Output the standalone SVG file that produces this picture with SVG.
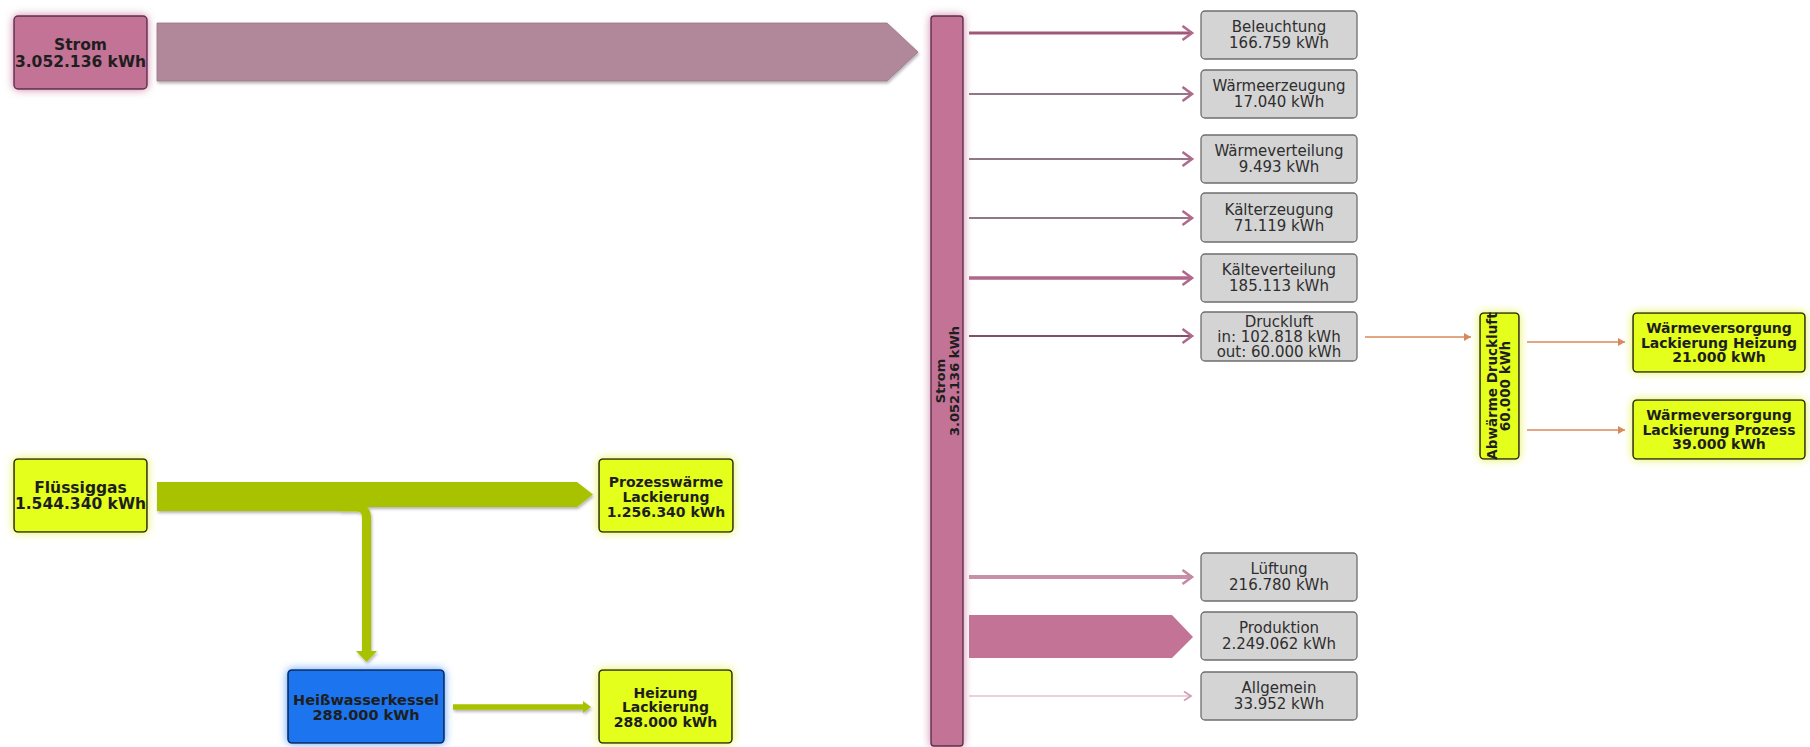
<svg xmlns="http://www.w3.org/2000/svg" width="1810" height="747" viewBox="0 0 1810 747">
<defs>
<style>
text{font-family:"DejaVu Sans","Liberation Sans",sans-serif;fill:#1e1e1e;text-anchor:middle}
.b{font-weight:bold}
.gt{font-size:15px;fill:#2e2e2e}
.gray{fill:#d4d4d4;stroke:#6e6e6e;stroke-width:1.3}
.yel{fill:#e4ff1c;stroke:#2e2e1a;stroke-width:1.6}
.pk{fill:#c27396;stroke:#5a3048;stroke-width:1.4}
.ln{fill:none}
.or{fill:none;stroke:#d8895a;stroke-width:1.5}
.gr{fill:#a9c200}
</style>
<filter id="glowP" x="-30%" y="-30%" width="160%" height="160%">
<feFlood flood-color="#c8709a" flood-opacity="0.85" result="c"/>
<feComposite in="c" in2="SourceAlpha" operator="in" result="s"/>
<feGaussianBlur in="s" stdDeviation="4.5"/>
<feMerge><feMergeNode/><feMergeNode in="SourceGraphic"/></feMerge>
</filter>
<filter id="glowY" x="-30%" y="-30%" width="160%" height="160%">
<feFlood flood-color="#e0f030" flood-opacity="0.85" result="c"/>
<feComposite in="c" in2="SourceAlpha" operator="in" result="s"/>
<feGaussianBlur in="s" stdDeviation="4.5"/>
<feMerge><feMergeNode/><feMergeNode in="SourceGraphic"/></feMerge>
</filter>
<filter id="glowB" x="-30%" y="-30%" width="160%" height="160%">
<feFlood flood-color="#3a8cff" flood-opacity="0.85" result="c"/>
<feComposite in="c" in2="SourceAlpha" operator="in" result="s"/>
<feGaussianBlur in="s" stdDeviation="4.5"/>
<feMerge><feMergeNode/><feMergeNode in="SourceGraphic"/></feMerge>
</filter>
<filter id="sh" x="-10%" y="-30%" width="120%" height="160%">
<feDropShadow dx="1" dy="2" stdDeviation="1.5" flood-color="#000" flood-opacity="0.3"/>
</filter>
<marker id="ah" markerUnits="userSpaceOnUse" markerWidth="14" markerHeight="18" refX="11" refY="8" orient="auto">
<path d="M1.5,1 L11,8 L1.5,15" fill="none" stroke="#b06a8c" stroke-width="2.6"/>
</marker>
<marker id="ahl" markerUnits="userSpaceOnUse" markerWidth="14" markerHeight="18" refX="11" refY="8" orient="auto">
<path d="M1.5,1 L11,8 L1.5,15" fill="none" stroke="#c48aa4" stroke-width="2.6"/>
</marker>
<marker id="ahs" markerUnits="userSpaceOnUse" markerWidth="10" markerHeight="12" refX="8" refY="5.5" orient="auto">
<path d="M1,1 L8,5.5 L1,10" fill="none" stroke="#d0a0b6" stroke-width="1.8"/>
</marker>
<marker id="aho" markerUnits="userSpaceOnUse" markerWidth="10" markerHeight="12" refX="8" refY="5" orient="auto">
<path d="M1,1 L8,5 L1,9 Z" fill="#d8895a"/>
</marker>
</defs>
<rect width="1810" height="747" fill="#ffffff"/>

<g id="connectors">
<polygon points="157,23 887,23 918,52 887,81 157,81" fill="#b0889a" stroke="#9a7486" stroke-width="0.8" filter="url(#sh)"/>
<line class="ln" x1="969" y1="33" x2="1192" y2="33" style="stroke:#a0587a;stroke-width:3.2" marker-end="url(#ah)"/>
<line class="ln" x1="969" y1="94" x2="1192" y2="94" style="stroke:#6a4a5c;stroke-width:1.3" marker-end="url(#ah)"/>
<line class="ln" x1="969" y1="159" x2="1192" y2="159" style="stroke:#6a4a5c;stroke-width:1.3" marker-end="url(#ah)"/>
<line class="ln" x1="969" y1="218" x2="1192" y2="218" style="stroke:#6a4a5c;stroke-width:1.6" marker-end="url(#ah)"/>
<line class="ln" x1="969" y1="278" x2="1192" y2="278" style="stroke:#b0658a;stroke-width:3.5" marker-end="url(#ah)"/>
<line class="ln" x1="969" y1="336" x2="1192" y2="336" style="stroke:#80506a;stroke-width:2.2" marker-end="url(#ah)"/>
<line class="ln" x1="969" y1="577" x2="1192" y2="577" style="stroke:#c890a8;stroke-width:4" marker-end="url(#ahl)"/>
<polygon points="969,615 1172,615 1193,637 1172,658 969,658" fill="#c27396"/>
<line class="ln" x1="969" y1="696" x2="1191" y2="696" style="stroke:#d4a6ba;stroke-width:1.2" marker-end="url(#ahs)"/>
<line class="or" x1="1365" y1="337" x2="1471" y2="337" marker-end="url(#aho)"/>
<line class="or" x1="1527" y1="342" x2="1625" y2="342" marker-end="url(#aho)"/>
<line class="or" x1="1527" y1="430" x2="1625" y2="430" marker-end="url(#aho)"/>
<g filter="url(#sh)">
<polygon class="gr" points="157,482 577,482 593,494.5 577,507 157,507"/>
<rect class="gr" x="157" y="506" width="210" height="5"/>
<path d="M340,507 L356,507 Q366.5,507 366.5,518 L366.5,653" fill="none" stroke="#a9c200" stroke-width="9"/>
<polygon class="gr" points="356,651 377,651 366.5,662"/>
<line x1="453" y1="707" x2="584" y2="707" stroke="#a9c200" stroke-width="5.5"/>
<polygon class="gr" points="583,701 591,707 583,713"/>
</g>
</g>

<g id="strom-source">
<rect class="pk" x="14" y="16" width="133" height="73" rx="4" fill="#c8709a" filter="url(#glowP)"/>
<text class="b" x="80.5" y="50" font-size="15.5">Strom</text>
<text class="b" x="80.5" y="66.5" font-size="15.5">3.052.136 kWh</text>
</g>

<g id="strom-bus">
<rect class="pk" x="931" y="16" width="32" height="730" rx="3" filter="url(#glowP)"/>
<text class="b" font-size="13" transform="translate(944.5,381) rotate(-90)">Strom</text>
<text class="b" font-size="13" transform="translate(958.5,381) rotate(-90)">3.052.136 kWh</text>
</g>

<g id="beleuchtung">
<rect class="gray" x="1201" y="11" width="156" height="48" rx="4"/>
<text class="gt" x="1279" y="32">Beleuchtung</text>
<text class="gt" x="1279" y="48">166.759 kWh</text>
</g>
<g id="waermeerzeugung">
<rect class="gray" x="1201" y="70" width="156" height="48" rx="4"/>
<text class="gt" x="1279" y="91">Wärmeerzeugung</text>
<text class="gt" x="1279" y="107">17.040 kWh</text>
</g>
<g id="waermeverteilung">
<rect class="gray" x="1201" y="135" width="156" height="48" rx="4"/>
<text class="gt" x="1279" y="156">Wärmeverteilung</text>
<text class="gt" x="1279" y="172">9.493 kWh</text>
</g>
<g id="kaelterzeugung">
<rect class="gray" x="1201" y="193" width="156" height="49" rx="4"/>
<text class="gt" x="1279" y="215">Kälterzeugung</text>
<text class="gt" x="1279" y="231">71.119 kWh</text>
</g>
<g id="kaelteverteilung">
<rect class="gray" x="1201" y="254" width="156" height="48" rx="4"/>
<text class="gt" x="1279" y="275">Kälteverteilung</text>
<text class="gt" x="1279" y="291">185.113 kWh</text>
</g>
<g id="druckluft">
<rect class="gray" x="1201" y="312" width="156" height="49" rx="4"/>
<text class="gt" x="1279" y="327">Druckluft</text>
<text class="gt" x="1279" y="342">in: 102.818 kWh</text>
<text class="gt" x="1279" y="357">out: 60.000 kWh</text>
</g>
<g id="lueftung">
<rect class="gray" x="1201" y="553" width="156" height="48" rx="4"/>
<text class="gt" x="1279" y="574">Lüftung</text>
<text class="gt" x="1279" y="590">216.780 kWh</text>
</g>
<g id="produktion">
<rect class="gray" x="1201" y="612" width="156" height="48" rx="4"/>
<text class="gt" x="1279" y="633">Produktion</text>
<text class="gt" x="1279" y="649">2.249.062 kWh</text>
</g>
<g id="allgemein">
<rect class="gray" x="1201" y="672" width="156" height="48" rx="4"/>
<text class="gt" x="1279" y="693">Allgemein</text>
<text class="gt" x="1279" y="709">33.952 kWh</text>
</g>

<g id="abwaerme-druckluft">
<rect class="yel" x="1480" y="313" width="39" height="146" rx="4" filter="url(#glowY)"/>
<text class="b" font-size="13.5" transform="translate(1496.5,386) rotate(-90)">Abwärme Druckluft</text>
<text class="b" font-size="13.5" transform="translate(1510,386) rotate(-90)">60.000 kWh</text>
</g>
<g id="wv-heizung">
<rect class="yel" x="1633" y="313" width="172" height="59" rx="4" filter="url(#glowY)"/>
<text class="b" font-size="14" x="1719" y="333">Wärmeversorgung</text>
<text class="b" font-size="14" x="1719" y="347.5">Lackierung Heizung</text>
<text class="b" font-size="14" x="1719" y="362">21.000 kWh</text>
</g>
<g id="wv-prozess">
<rect class="yel" x="1633" y="400" width="172" height="59" rx="4" filter="url(#glowY)"/>
<text class="b" font-size="14" x="1719" y="420">Wärmeversorgung</text>
<text class="b" font-size="14" x="1719" y="434.5">Lackierung Prozess</text>
<text class="b" font-size="14" x="1719" y="449">39.000 kWh</text>
</g>

<g id="fluessiggas">
<rect class="yel" x="14" y="459" width="133" height="73" rx="4" filter="url(#glowY)"/>
<text class="b" x="80.5" y="493" font-size="15.5">Flüssiggas</text>
<text class="b" x="80.5" y="509" font-size="15.5">1.544.340 kWh</text>
</g>
<g id="prozesswaerme">
<rect class="yel" x="599" y="459" width="134" height="73" rx="4" filter="url(#glowY)"/>
<text class="b" x="666" y="487" font-size="14">Prozesswärme</text>
<text class="b" x="666" y="502" font-size="14">Lackierung</text>
<text class="b" x="666" y="517" font-size="14">1.256.340 kWh</text>
</g>
<g id="heisswasserkessel">
<rect x="288" y="670" width="156" height="73" rx="4" fill="#1c74ee" stroke="#0c2a5c" stroke-width="1.6" filter="url(#glowB)"/>
<text class="b" x="366" y="705" font-size="14.5">Heißwasserkessel</text>
<text class="b" x="366" y="719.5" font-size="14.5">288.000 kWh</text>
</g>
<g id="heizung-lackierung">
<rect class="yel" x="599" y="670" width="133" height="73" rx="4" filter="url(#glowY)"/>
<text class="b" x="665.5" y="698" font-size="14">Heizung</text>
<text class="b" x="665.5" y="712" font-size="14">Lackierung</text>
<text class="b" x="665.5" y="727" font-size="14">288.000 kWh</text>
</g>
</svg>
